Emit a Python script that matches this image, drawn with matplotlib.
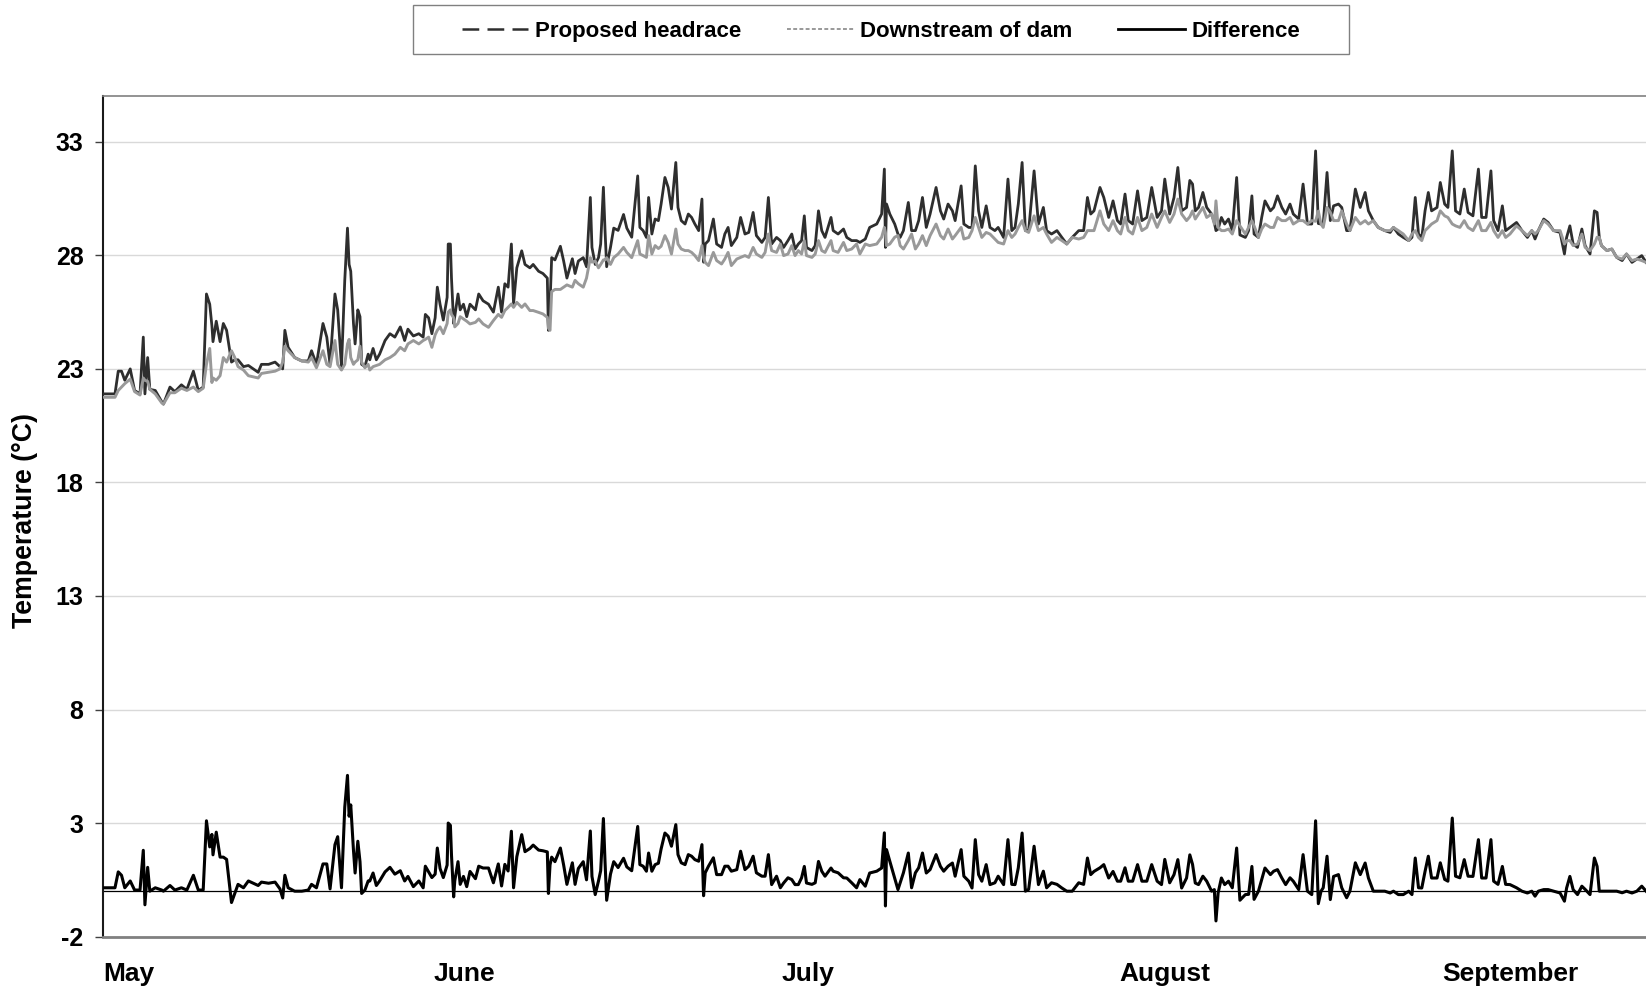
import matplotlib
matplotlib.use("Agg")
import matplotlib.pyplot as plt
from matplotlib.lines import Line2D
from matplotlib.patches import Rectangle
import numpy as np

plt.rcParams['font.family'] = ['Liberation Sans', 'DejaVu Sans']

# Time in days since 1 May, water temperature in °C at the two stations
day = [
    0.0, 1.1, 1.4, 1.7, 2.0, 2.5, 2.9, 3.4, 3.7, 3.85, 4.1, 4.3, 4.8, 5.4, 5.55,
    6.15, 6.6, 7.2, 7.7, 8.3, 8.75, 9.2, 9.5, 9.8, 10.0, 10.1, 10.4, 10.75, 11.05,
    11.35, 11.8, 12.1, 12.4, 12.9, 13.35, 13.8, 14.25, 14.55, 15.2, 15.8, 16.25,
    16.5, 16.7, 17.0, 17.6, 18.25, 18.85, 19.15, 19.6, 20.2, 20.55, 20.85, 21.3,
    21.55, 21.9, 22.2, 22.45, 22.6, 22.75, 23.0, 23.15, 23.4, 23.6, 23.75, 24.05,
    24.35, 24.5, 24.8, 25.1, 25.4, 25.9, 26.35, 26.8, 27.3, 27.7, 28.0, 28.5, 29.0,
    29.4, 29.6, 29.9, 30.2, 30.5, 30.7, 30.95, 31.25, 31.6, 31.7, 31.9, 32.0, 32.2,
    32.3, 32.6, 32.8, 33.1, 33.4, 33.7, 34.2, 34.5, 34.9, 35.4, 35.85, 36.3, 36.6,
    36.9, 37.2, 37.5, 37.7, 38.0, 38.45, 38.75, 39.2, 39.5, 40.0, 40.4, 40.8, 40.9,
    41.05, 41.2, 41.5, 42.0, 42.3, 42.6, 43.1, 43.35, 43.65, 44.1, 44.4, 44.75,
    44.9, 45.2, 45.5, 45.7, 45.95, 46.1, 46.25, 46.6, 46.9, 47.3, 47.8, 48.1, 48.55,
    49.1, 49.3, 49.6, 49.9, 50.1, 50.4, 50.7, 51.0, 51.25, 51.6, 51.9, 52.2, 52.6,
    52.8, 53.1, 53.45, 53.75, 54.05, 54.35, 54.7, 55.0, 55.15, 55.3, 55.6, 56.05,
    56.35, 56.8, 57.1, 57.4, 57.7, 58.2, 58.55, 58.95, 59.3, 59.7, 60.0, 60.5, 60.8,
    61.1, 61.4, 61.85, 62.2, 62.5, 62.9, 63.25, 63.55, 63.85, 64.15, 64.4, 64.6,
    65.1, 65.4, 65.7, 66.0, 66.3, 66.85, 67.05, 67.5, 68.0, 68.3, 68.75, 69.2, 69.5,
    70.0, 70.4, 71.05, 71.5, 71.75, 71.85, 71.95, 72.25, 72.7, 73.0, 73.2, 73.5,
    73.95, 74.25, 74.6, 74.9, 75.25, 75.6, 75.95, 76.5, 76.9, 77.2, 77.6, 78.0,
    78.25, 78.8, 79.05, 79.5, 79.8, 80.1, 80.4, 80.7, 81.1, 81.45, 81.9, 82.2, 82.7,
    83.1, 83.45, 83.75, 84.05, 84.4, 84.7, 85.0, 85.5, 85.9, 86.35, 86.65, 87.1,
    87.6, 88.05, 88.5, 89.0, 89.6, 90.05, 90.4, 90.7, 91.0, 91.55, 91.9, 92.35,
    92.75, 93.15, 93.45, 93.85, 94.15, 94.55, 95.0, 95.4, 95.85, 96.3, 96.8, 97.2,
    97.5, 97.95, 98.35, 98.7, 99.05, 99.5, 99.8, 100.05, 100.3, 100.6, 101.0,
    101.35, 101.8, 102.05, 102.2, 102.4, 102.7, 103.0, 103.35, 103.7, 104.1, 104.4,
    104.9, 105.2, 105.5, 105.7, 106.1, 106.4, 106.7, 107.2, 107.5, 107.85, 108.25,
    108.6, 109.0, 109.3, 109.8, 110.2, 110.6, 111.0, 111.35, 111.6, 111.85, 112.05,
    112.4, 112.7, 113.0, 113.45, 113.75, 114.2, 114.5, 115.0, 115.45, 115.9, 116.2,
    116.65, 117.1, 117.7, 118.2, 118.5, 118.95, 119.4, 119.9, 120.2, 120.5, 120.8,
    121.1, 121.4, 121.7, 122.0, 122.5, 122.8, 123.2, 123.5, 123.9, 124.2, 124.6,
    125.0, 125.35, 125.8, 126.3, 126.6, 127.0, 127.45, 127.7, 128.1, 128.5, 128.8,
    129.2, 129.8, 130.3, 130.8, 131.2, 131.5, 131.8, 132.3, 132.7, 133.2, 133.8,
    134.2, 134.4, 134.7, 135.0, 135.4, 135.8, 136.1, 136.55, 136.95, 137.2, 137.4,
    137.6, 138.1, 138.55, 139.0, 139.5, 139.9, 140.4, 140.85, 141.3, 141.7,
]

headrace = [
    21.90, 21.90, 22.90, 22.90, 22.50, 23.00, 22.05, 21.90, 24.40, 21.90, 23.50, 22.10, 22.05, 21.55, 21.45,
    22.20, 22.00, 22.30, 22.10, 22.90, 22.05, 22.20, 26.30, 25.85, 24.90, 24.20, 25.10, 24.20, 25.00,
    24.70, 23.30, 23.40, 23.40, 23.10, 23.15, 23.00, 22.85, 23.20, 23.20, 23.30, 23.10,
    23.00, 24.70, 23.95, 23.50, 23.35, 23.35, 23.80, 23.20, 25.00, 24.40, 23.20, 26.30,
    25.60, 23.10, 26.90, 29.20, 27.60, 27.30, 25.00, 24.10, 25.60, 25.30, 23.20, 23.10,
    23.65, 23.40, 23.90, 23.40, 23.65, 24.25, 24.55, 24.40, 24.85, 24.25, 24.75, 24.45, 24.55,
    24.40, 25.40, 25.25, 24.55, 25.25, 26.60, 25.85, 25.15, 26.15, 28.50, 28.50, 27.00, 25.00,
    25.30, 26.30, 25.60, 25.85, 25.30, 25.85, 25.60, 26.30, 26.00, 25.85, 25.50, 26.60, 25.50,
    26.75, 26.60, 28.50, 25.86, 27.45, 28.20, 27.60, 27.45, 27.60, 27.30, 27.20, 27.00, 24.70,
    25.86, 27.90, 27.80, 28.40, 27.75, 27.00, 27.85, 27.20, 27.75, 27.90, 27.50, 30.55,
    28.35, 27.60, 27.90, 28.50, 31.00, 29.10, 27.50, 28.35, 29.20, 29.10, 29.80, 29.20, 28.80,
    31.50, 29.23, 29.09, 28.79, 30.55, 28.94, 29.60, 29.53, 30.26, 31.43, 30.99, 30.04, 32.09,
    30.11, 29.53, 29.38, 29.82, 29.67, 29.38, 29.09, 30.48, 27.70, 28.50, 28.65, 29.60,
    28.50, 28.35, 28.94, 29.23, 28.43, 28.79, 29.67, 28.94, 29.01, 29.89, 28.87, 28.57, 28.79,
    30.55, 28.50, 28.79, 28.65, 28.35, 28.65, 28.94, 28.28, 28.50, 28.65, 29.74, 28.35,
    28.21, 28.43, 29.96, 29.09, 28.79, 29.67, 29.09, 28.94, 29.16, 28.79, 28.65, 28.65, 28.57,
    28.72, 29.23, 29.38, 29.82, 31.80, 28.35, 30.26, 29.82, 29.38, 28.94, 28.79, 29.09,
    30.33, 29.09, 29.09, 29.53, 30.55, 29.23, 29.82, 30.99, 29.96, 29.60, 30.26, 29.96,
    29.53, 31.06, 29.38, 29.23, 29.23, 31.94, 29.96, 29.23, 30.18, 29.23, 29.09, 29.23, 28.79,
    31.36, 29.09, 29.23, 30.26, 32.09, 29.09, 29.09, 31.72, 29.38, 30.11, 29.09, 28.94,
    29.09, 28.79, 28.50, 28.79, 29.09, 29.09, 30.55, 29.82, 29.96, 30.99, 30.55, 29.67,
    30.40, 29.53, 29.38, 30.70, 29.53, 29.38, 30.84, 29.53, 29.67, 30.99, 29.67, 29.96,
    31.36, 29.82, 30.55, 31.87, 29.96, 30.11, 31.30, 31.14, 29.96, 30.11, 30.77,
    30.11, 29.82, 29.45, 29.09, 29.16, 29.67, 29.38, 29.60, 29.09, 31.43, 28.90,
    28.79, 29.09, 30.62, 28.94, 28.79, 29.67, 30.40, 29.96, 30.11, 30.62, 30.11,
    29.82, 30.26, 29.82, 29.60, 31.14, 29.38, 29.38, 32.60, 29.40, 29.38, 29.38,
    31.65, 29.53, 30.18, 30.26, 30.11, 29.09, 29.09, 30.92, 30.11, 30.77, 29.96,
    29.53, 29.23, 29.09, 29.01, 29.23, 28.94, 28.79, 28.65, 28.79, 30.55, 28.94,
    28.79, 29.96, 30.77, 29.96, 30.11, 31.21, 30.26, 30.11, 32.60, 29.96, 29.82,
    30.92, 29.89, 29.74, 31.80, 29.67, 29.67, 31.72, 29.53, 29.09, 30.18, 29.09,
    29.23, 29.45, 29.09, 28.79, 29.09, 28.72, 29.09, 29.60, 29.45, 29.09, 29.01,
    28.06, 28.79, 29.30, 28.50, 28.35, 29.16, 28.43, 28.06, 29.96, 29.89, 28.79,
    28.43, 28.21, 28.28, 27.91, 27.77, 28.06, 27.69, 27.84, 27.99, 27.69,
]

downstream = [
    21.75, 21.75, 22.05, 22.20, 22.35, 22.55, 22.00, 21.85, 22.60, 22.50, 22.45, 22.10, 21.90, 21.50, 21.45,
    21.95, 21.95, 22.15, 22.05, 22.20, 22.00, 22.15, 23.20, 23.90, 22.40, 22.60, 22.50, 22.70, 23.50,
    23.30, 23.80, 23.50, 23.10, 22.95, 22.70, 22.65, 22.60, 22.80, 22.85, 22.90, 23.00,
    23.30, 24.00, 23.80, 23.50, 23.35, 23.30, 23.50, 23.05, 23.80, 23.20, 23.10, 24.25,
    23.20, 22.95, 23.20, 24.10, 24.30, 23.50, 23.20, 23.30, 23.40, 24.00, 23.30, 23.05,
    23.20, 22.95, 23.10, 23.15, 23.20, 23.40, 23.50, 23.65, 23.95, 23.80, 24.10, 24.25, 24.10,
    24.25, 24.30, 24.40, 23.95, 24.50, 24.70, 24.85, 24.55, 25.00, 25.50, 25.60, 25.40, 25.25,
    24.85, 25.00, 25.30, 25.20, 25.10, 24.98, 25.05, 25.20, 24.98, 24.83, 25.13, 25.40, 25.27,
    25.57, 25.71, 25.86, 25.71, 25.93, 25.71, 25.86, 25.57, 25.57, 25.49, 25.42, 25.27, 24.80,
    24.70, 26.40, 26.50, 26.50, 26.60, 26.70, 26.60, 26.90, 26.75, 26.60, 27.00, 27.90,
    27.70, 27.75, 27.45, 27.60, 27.80, 27.80, 27.90, 27.60, 27.90, 28.06, 28.35, 28.13, 27.90,
    28.65, 28.06, 27.99, 27.91, 28.87, 28.06, 28.43, 28.30, 28.40, 28.87, 28.57, 28.06, 29.16,
    28.50, 28.28, 28.21, 28.21, 28.13, 27.99, 27.77, 28.43, 27.90, 27.69, 27.55, 28.13,
    27.77, 27.62, 27.84, 28.13, 27.55, 27.84, 27.91, 27.99, 27.91, 28.35, 28.06, 27.91, 28.13,
    28.94, 28.21, 28.13, 28.50, 27.99, 28.06, 28.43, 27.99, 28.21, 28.06, 28.65, 27.99,
    27.91, 28.06, 28.65, 28.21, 28.13, 28.65, 28.21, 28.13, 28.57, 28.21, 28.28, 28.50, 28.06,
    28.50, 28.43, 28.50, 28.80, 29.23, 29.00, 28.43, 28.50, 28.80, 28.87, 28.43, 28.28,
    28.65, 28.94, 28.28, 28.50, 28.87, 28.43, 28.87, 29.38, 28.87, 28.72, 29.16, 28.72,
    28.87, 29.23, 28.72, 28.79, 29.09, 29.67, 29.23, 28.79, 29.01, 28.94, 28.72, 28.57, 28.50,
    29.09, 28.79, 28.94, 29.23, 29.53, 29.09, 29.01, 29.74, 29.09, 29.23, 28.94, 28.57,
    28.79, 28.65, 28.50, 28.79, 28.72, 28.79, 29.09, 29.09, 29.09, 29.96, 29.38, 29.09,
    29.53, 29.09, 28.94, 29.67, 29.09, 28.94, 29.67, 29.09, 29.23, 29.82, 29.23, 29.67,
    29.96, 29.45, 29.82, 30.48, 29.82, 29.53, 29.70, 29.96, 29.60, 29.82, 30.11,
    29.67, 29.82, 29.38, 30.40, 29.23, 29.09, 29.09, 29.16, 28.94, 29.53, 29.30,
    28.94, 29.23, 29.53, 29.30, 28.79, 29.16, 29.38, 29.23, 29.23, 29.67, 29.53,
    29.53, 29.67, 29.38, 29.53, 29.53, 29.38, 29.53, 29.50, 29.95, 29.38, 29.23,
    30.11, 29.90, 29.53, 29.53, 29.96, 29.38, 29.09, 29.67, 29.38, 29.53, 29.38,
    29.53, 29.23, 29.09, 29.09, 29.23, 29.09, 28.94, 28.65, 28.94, 29.09, 28.79,
    28.65, 29.09, 29.23, 29.38, 29.53, 29.96, 29.74, 29.67, 29.38, 29.30, 29.23,
    29.53, 29.23, 29.09, 29.53, 29.09, 29.09, 29.45, 29.09, 28.79, 29.09, 28.79,
    28.94, 29.30, 29.09, 28.87, 29.09, 28.94, 29.09, 29.53, 29.38, 29.09, 29.09,
    28.50, 28.65, 28.65, 28.43, 28.50, 28.94, 28.35, 28.21, 28.50, 28.80, 28.79,
    28.43, 28.21, 28.28, 27.91, 27.84, 28.06, 27.77, 27.84, 27.77, 27.69,
]

series_names = ['Proposed headrace', 'Downstream of dam', 'Difference']
month_labels = ['May', 'June', 'July', 'August', 'September']
month_days = [0.0, 30.4, 62.3, 93.3, 123.0]
y_ticks = [-2, 3, 8, 13, 18, 23, 28, 33]

t = np.asarray(day)
head = np.asarray(headrace)
down = np.asarray(downstream)
difference = head - down

W, H = 1646, 990
fig = plt.figure(figsize=(W / 100, H / 100), dpi=100)
# plot area runs past the right edge of the canvas
ax_left, ax_right, ax_top, ax_bottom = 103, 1680, 95.5, 936.6
ax = fig.add_axes([ax_left / W, 1 - ax_bottom / H,
                   (ax_right - ax_left) / W, (ax_bottom - ax_top) / H])

c_head, c_down, c_diff = '#2e2e2e', '#999999', '#000000'
ax.plot(t, head, color=c_head, lw=2.0, solid_joinstyle='round', zorder=3)
ax.plot(t, down, color=c_down, lw=2.1, solid_joinstyle='round', zorder=4)
ax.axhline(0, color='black', lw=0.9, zorder=2)
ax.plot(t, difference, color=c_diff, lw=2.2, solid_joinstyle='round', zorder=5)

px_per_day = 10.89
ax.set_xlim(0, (ax_right - ax_left) / px_per_day)
ax.set_ylim(-2, 35.04)

ax.set_yticks(y_ticks)
ax.set_yticklabels([str(v) for v in y_ticks], fontweight='bold', fontsize=18)
ax.set_xticks(month_days)
ax.set_xticklabels(month_labels, fontweight='bold', fontsize=19, ha='left')

ax.yaxis.grid(True, color='#d9d9d9', lw=1.0)
ax.set_axisbelow(True)
ax.tick_params(axis='y', direction='out', length=6, width=1.0, color='#404040', pad=8)
ax.tick_params(axis='x', length=0, pad=18)

ax.spines['left'].set_color('#1a1a1a')
ax.spines['left'].set_linewidth(1.5)
ax.spines['bottom'].set_color('#808080')
ax.spines['bottom'].set_linewidth(2.0)
ax.spines['top'].set_color('#808080')
ax.spines['top'].set_linewidth(1.2)
ax.spines['right'].set_visible(False)

fig.text(25 / W, 1 - 521 / H, 'Temperature (°C)', rotation=90, ha='center',
         va='center', fontsize=19.3, fontweight='bold')

# legend box drawn as a plain rectangle, entries centred inside it
box_l, box_r, box_t, box_b = 413, 1349, 5, 54
fig.patches.append(Rectangle((box_l / W, 1 - box_b / H), (box_r - box_l) / W,
                             (box_b - box_t) / H, transform=fig.transFigure,
                             facecolor='white', edgecolor='#808080', lw=1.0))
handles = [
    Line2D([], [], color=c_head, lw=1.8, dashes=(6.7, 3.3)),
    Line2D([], [], color=c_down, lw=1.4, dashes=(2, 1.2)),
    Line2D([], [], color=c_diff, lw=2.0),
]
leg = fig.legend(handles, series_names, loc='center',
                 bbox_to_anchor=((box_l + box_r) / 2 / W, 1 - ((box_t + box_b) / 2 + 2) / H),
                 ncol=3, frameon=False, prop=dict(weight='bold', size=16),
                 handlelength=3.0, handletextpad=0.3, columnspacing=2.05,
                 borderpad=0.0)

fig.savefig('out.png', dpi=100)
